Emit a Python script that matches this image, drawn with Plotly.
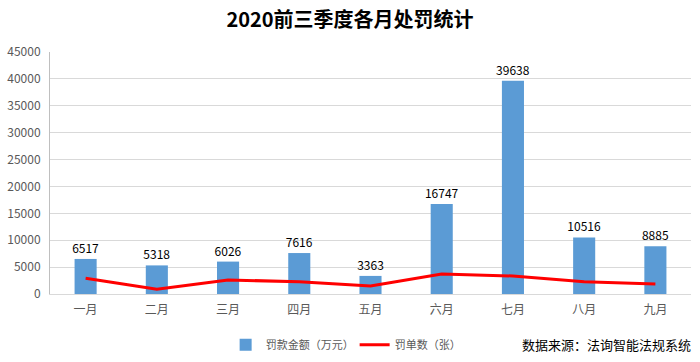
import plotly.graph_objects as go

months = ["一月", "二月", "三月", "四月", "五月", "六月", "七月", "八月", "九月"]
fine_amount = [6517, 5318, 6026, 7616, 3363, 16747, 39638, 10516, 8885]
ticket_count = [2920, 870, 2600, 2290, 1490, 3720, 3350, 2290, 1860]
y_ticks = [0, 5000, 10000, 15000, 20000, 25000, 30000, 35000, 40000, 45000]

font_family = "Noto Sans CJK SC, Microsoft YaHei, sans-serif"

fig = go.Figure()
fig.add_trace(go.Bar(
    x=months, y=fine_amount, name="罚款金额（万元）",
    marker=dict(color="#5B9BD5", line=dict(width=0)),
    width=0.31,
    text=[str(v) for v in fine_amount], textposition="outside",
    constraintext="none",
    textfont=dict(size=12, color="#000000", family=font_family),
    cliponaxis=False,
))
fig.add_trace(go.Scatter(
    x=months, y=ticket_count, name="罚单数（张）", mode="lines",
    line=dict(color="#FF0000", width=3),
))

fig.update_layout(
    width=700, height=362,
    margin=dict(l=50, r=9, t=52, b=68, autoexpand=False),
    paper_bgcolor="white", plot_bgcolor="white",
    font=dict(family=font_family, size=12, color="#595959"),
    title=dict(text="<b>2020前三季度各月处罚统计</b>", x=0.5, xanchor="center",
               y=0.945, yanchor="middle",
               font=dict(size=20, color="#000000", family=font_family)),
    showlegend=True,
    legend=dict(orientation="h", x=0.274, xanchor="left", y=-0.21, yanchor="middle",
                font=dict(size=11, color="#595959"),
                entrywidth=84, entrywidthmode="pixels",
                traceorder="normal"),
    bargap=0.69,
)
fig.update_xaxes(showgrid=False, showline=True, linecolor="#D9D9D9", linewidth=1,
                 ticks="", ticklabelstandoff=5, tickfont=dict(size=12, color="#595959"))
fig.update_yaxes(range=[0, 45000], tickvals=y_ticks, ticktext=[str(v) for v in y_ticks],
                 showgrid=True, gridcolor="#D9D9D9",
                 gridwidth=1, showline=True, linecolor="#BFBFBF", linewidth=1,
                 zeroline=False, ticks="", ticklabelstandoff=6,
                 tickfont=dict(size=12, color="#595959"))

fig.add_annotation(text="数据来源：法询智能法规系统", xref="paper", yref="paper",
                   x=1.0, xanchor="right", xshift=2, y=-0.21, yanchor="middle", showarrow=False,
                   font=dict(size=13, color="#000000", family=font_family))

fig.write_html("out.html", post_script="document.body.style.margin='0';",
               config={"displayModeBar": False})
